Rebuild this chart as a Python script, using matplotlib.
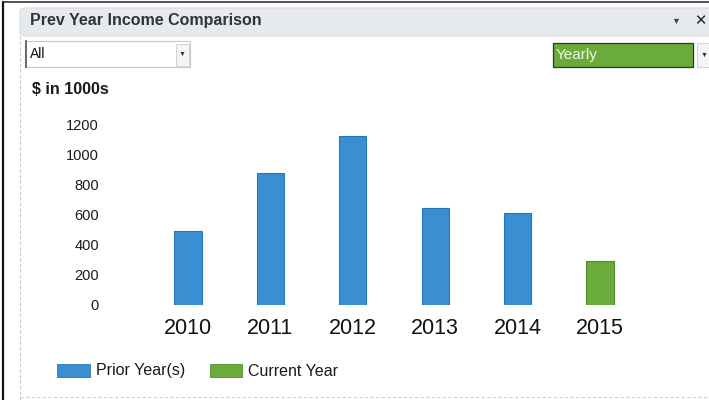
import matplotlib

matplotlib.use("Agg")
import matplotlib.pyplot as plt
from matplotlib.patches import Rectangle, FancyBboxPatch

plt.rcParams["font.family"] = ["Liberation Sans", "DejaVu Sans"]

# ── Data ─────────────────────────────────────────────────────────────────────
years = ["2010", "2011", "2012", "2013", "2014", "2015"]
income = [495, 880, 1127, 650, 611, 295]          # $ in 1000s
is_current = [False, False, False, False, False, True]
y_ticks = [0, 200, 400, 600, 800, 1000, 1200]
legend_labels = ["Prior Year(s)", "Current Year"]

BLUE = "#3a8fd2"
BLUE_EDGE = "#2676b8"
GREEN = "#6aab3c"
GREEN_EDGE = "#4f8f2a"

W, H = 709, 400
fig = plt.figure(figsize=(W / 100, H / 100), dpi=100)
fig.patch.set_facecolor("white")


def px(x, y):
    """pixel coords (origin top-left) -> figure fraction"""
    return x / W, 1 - y / H


def box(x0, y0, x1, y1, **kw):
    fx, fy = px(x0, y1)
    fig.add_artist(Rectangle((fx, fy), (x1 - x0) / W, (y1 - y0) / H,
                             transform=fig.transFigure, **kw))


def label(x, y, s, **kw):
    fx, fy = px(x, y)
    fig.text(fx, fy, s, **kw)


# ── Window chrome ────────────────────────────────────────────────────────────
fig.add_artist(plt.Line2D([3 / W, 3 / W], [0, 1 - 2 / H], color="#111111", lw=1.6,
                          transform=fig.transFigure))
fig.add_artist(plt.Line2D([3 / W, 1], [1 - 2 / H, 1 - 2 / H], color="#333333", lw=1.2,
                          transform=fig.transFigure))

# header bar
fx, fy = px(20, 36)
fig.add_artist(FancyBboxPatch((fx, fy), 1 - fx + 0.02, 28 / H,
                              boxstyle="round,pad=0,rounding_size=0.01",
                              transform=fig.transFigure, facecolor="#e6eaee",
                              edgecolor="#d5dade", lw=0.8))
label(30, 21, "Prev Year Income Comparison", fontsize=11.5, fontweight="bold",
      color="#333333", va="center", ha="left")
label(676, 21, "\u25BC", fontsize=6.5, color="#444444", va="center", ha="center")
label(700, 21, "\u2715", fontsize=10.5, fontweight="bold", color="#222222", va="center", ha="center")

# dashed panel border
fig.add_artist(plt.Line2D([20 / W, 20 / W], [0, 1 - 36 / H], color="#c8c8c8", lw=0.8,
                          ls=(0, (3, 2)), transform=fig.transFigure))
fig.add_artist(plt.Line2D([20 / W, 1], [1 - 397 / H, 1 - 397 / H], color="#d0d0d0", lw=0.8,
                          ls=(0, (3, 2)), transform=fig.transFigure))

# "All" dropdown
box(25, 41, 190, 67, facecolor="white", edgecolor="#c8c8c8", lw=0.8)
fig.add_artist(plt.Line2D([25.5 / W, 25.5 / W], [1 - 41 / H, 1 - 67 / H], color="#555555",
                          lw=1.2, transform=fig.transFigure))
box(176, 44, 189, 66, facecolor="#f4f4f4", edgecolor="#cccccc", lw=0.6)
label(30, 54, "All", fontsize=10, color="#111111", va="center", ha="left")
label(182.5, 54, "\u25BC", fontsize=5, color="#333333", va="center", ha="center")

# "Yearly" dropdown
box(553, 43, 693, 67, facecolor=GREEN, edgecolor="#333333", lw=0.9)
label(556, 55, "Yearly", fontsize=11, color="#eef6e6", va="center", ha="left")
box(697, 43, 712, 67, facecolor="#f4f4f4", edgecolor="#cccccc", lw=0.6)
label(704, 55, "\u25BC", fontsize=5, color="#333333", va="center", ha="center")

label(32, 90, "$ in 1000s", fontsize=11.5, fontweight="bold", color="#1a1a1a",
      va="center", ha="left")

# ── Bar chart ────────────────────────────────────────────────────────────────
spacing = 82.4                      # pixels between bar centres
ax_l, ax_r, ax_t, ax_b = 110, 690, 125, 305
ax = fig.add_axes([ax_l / W, 1 - ax_b / H, (ax_r - ax_l) / W, (ax_b - ax_t) / H])
ax.set_facecolor("none")

x = list(range(len(years)))
colors = [GREEN if c else BLUE for c in is_current]
edges = [GREEN_EDGE if c else BLUE_EDGE for c in is_current]
ax.bar(x, income, width=0.33, color=colors, edgecolor=edges, linewidth=0.8, zorder=3)

ax.set_xlim(-(188 - ax_l) / spacing, 5 + (ax_r - 600) / spacing)
ax.set_ylim(0, 1200)
ax.set_yticks(y_ticks)
ax.set_yticklabels([str(v) for v in y_ticks], fontsize=10.5, color="#1a1a1a")
ax.set_xticks(x)
ax.set_xticklabels(years, fontsize=15.5, color="#111111")
ax.tick_params(axis="y", length=0, pad=8)
ax.tick_params(axis="x", length=0, pad=9)
for s in ax.spines.values():
    s.set_visible(False)

# ── Legend ───────────────────────────────────────────────────────────────────
box(57, 364, 90, 377, facecolor=BLUE, edgecolor=BLUE_EDGE, lw=0.6)
label(96, 371, legend_labels[0], fontsize=11.5, color="#1a1a1a", va="center", ha="left")
box(210, 364, 242, 377, facecolor=GREEN, edgecolor=GREEN_EDGE, lw=0.6)
label(248, 371, legend_labels[1], fontsize=11.5, color="#1a1a1a", va="center", ha="left")

fig.savefig("out.png", dpi=100)
